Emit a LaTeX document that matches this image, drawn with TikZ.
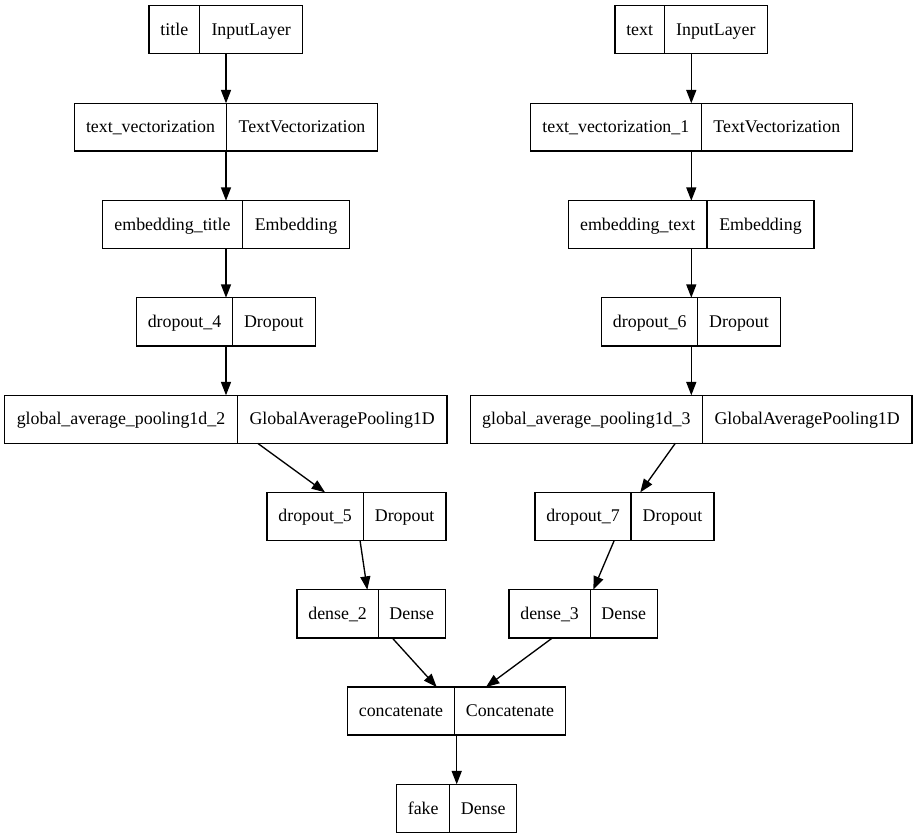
\documentclass[tikz,border=0pt]{standalone}
\usepackage{fontspec}
\setmainfont{Liberation Serif}
\usetikzlibrary{arrows.meta}
\tikzset{
  lbox/.style={draw=black, line width=1pt, rectangle, inner sep=0pt, outer sep=0pt},
  divider/.style={draw=black, line width=1pt},
  ltxt/.style={anchor=base, inner sep=0pt, font=\fontsize{13.4pt}{16pt}\selectfont},
  edge/.style={draw=black, line width=1pt, -{Triangle[length=10pt,width=7.5pt]}},
}
\newcommand\klayer[8]{%
  \node[lbox, minimum width={(#4-#2)*0.75pt}, minimum height={(#6-#5)*0.75pt}] (#1) at ({(#2+#4)/2},{(#5+#6)/2}) {};
  \draw[divider] (#3,#5) -- (#3,#6);
  \node[ltxt] at ({(#2+#3)/2},{(#5+#6)/2+5.5}) {#7};
  \node[ltxt] at ({(#3+#4)/2},{(#5+#6)/2+5.5}) {#8};
}
\begin{document}
\begin{tikzpicture}[x=0.75pt, y=-0.75pt]
\useasboundingbox (0,0) rectangle (917,839);
% left branch
\klayer{title}{149}{199.7}{302.7}{5.7}{53.7}{title}{InputLayer}
\klayer{tv}{74.3}{226.7}{377.3}{103.3}{151}{text\_vectorization}{TextVectorization}
\klayer{embt}{102.3}{242.7}{349.3}{200.7}{248.7}{embedding\_title}{Embedding}
\klayer{dfour}{136.7}{232.3}{315.3}{297.7}{346}{dropout\_4}{Dropout}
\klayer{gapa}{4.7}{237.3}{447}{395.3}{443.3}{global\_average\_pooling1d\_2}{GlobalAveragePooling1D}
\klayer{dfive}{267}{363.3}{446}{492.3}{540.3}{dropout\_5}{Dropout}
\klayer{dna}{297}{378.3}{445.3}{589.7}{638}{dense\_2}{Dense}
% right branch
\klayer{txt}{615}{664.3}{767.3}{5.7}{53.7}{text}{InputLayer}
\klayer{tvb}{530.3}{701.3}{852.3}{103.3}{151}{text\_vectorization\_1}{TextVectorization}
\klayer{embx}{568.3}{707}{814}{200.7}{248.7}{embedding\_text}{Embedding}
\klayer{dsix}{601.7}{697.7}{780.3}{297.7}{346}{dropout\_6}{Dropout}
\klayer{gapb}{470.3}{702.3}{912}{395.3}{443.3}{global\_average\_pooling1d\_3}{GlobalAveragePooling1D}
\klayer{dseven}{535}{631}{714}{492.3}{540.3}{dropout\_7}{Dropout}
\klayer{dnb}{509}{590.3}{657.3}{589.7}{638}{dense\_3}{Dense}
% merge
\klayer{cat}{347.3}{454.7}{565.3}{687}{735}{concatenate}{Concatenate}
\klayer{fake}{396.7}{449.7}{516.7}{784.3}{832.7}{fake}{Dense}
% edges left
\draw[edge] (title.south -| 226,0) -- (tv.north -| 226,0);
\draw[edge] (tv.south -| 226,0) -- (embt.north -| 226,0);
\draw[edge] (embt.south -| 226,0) -- (dfour.north -| 226,0);
\draw[edge] (dfour.south -| 226,0) -- (gapa.north -| 226,0);
\draw[edge] (gapa.south -| 257.7,0) -- (dfive.north -| 325,0);
\draw[edge] (dfive.south -| 360,0) -- (dna.north -| 367.3,0);
\draw[edge] (dna.south -| 392.3,0) -- (cat.north -| 436.7,0);
% edges right
\draw[edge] (txt.south -| 691.3,0) -- (tvb.north -| 691.3,0);
\draw[edge] (tvb.south -| 691.3,0) -- (embx.north -| 691.3,0);
\draw[edge] (embx.south -| 691.3,0) -- (dsix.north -| 691.3,0);
\draw[edge] (dsix.south -| 691.3,0) -- (gapb.north -| 691.3,0);
\draw[edge] (gapb.south -| 675.3,0) -- (dseven.north -| 640.3,0);
\draw[edge] (dseven.south -| 614.3,0) -- (dnb.north -| 593.3,0);
\draw[edge] (dnb.south -| 552.3,0) -- (cat.north -| 486,0);
% output
\draw[edge] (cat.south -| 456.7,0) -- (fake.north -| 456.7,0);
\end{tikzpicture}
\end{document}
